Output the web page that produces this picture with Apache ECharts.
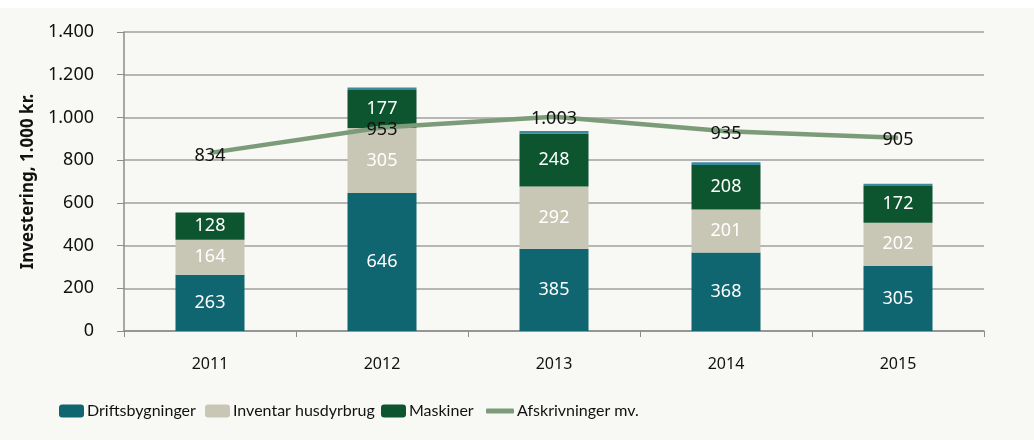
<!DOCTYPE html>
<html><head><meta charset="utf-8">
<script src="https://cdn.jsdelivr.net/npm/echarts@6/dist/echarts.min.js"></script>
<style>html,body{margin:0;padding:0;background:#f8f8f4}#c{width:1034px;height:440px}</style>
</head><body><div id="c"></div>
<script>
const years = ['2011','2012','2013','2014','2015'];
const driftsbygninger = [263, 646, 385, 368, 305];
const inventar = [164, 305, 292, 201, 202];
const maskiner = [128, 177, 248, 208, 172];
const oevrige = [0, 12, 11, 13, 11];
const afskrivninger = [834, 953, 1003, 935, 905];
const yTicks = [0, 200, 400, 600, 800, 1000, 1200, 1400];

const fmt = v => String(v).replace(/\B(?=(\d{3})+(?!\d))/g, '.');
const FONT = 'Noto Sans';
const chart = echarts.init(document.getElementById('c'));
const barLabel = {show:true, position:'inside', color:'#ffffff', fontSize:18, fontFamily:FONT};
const legendBase = {top:403, padding:0, itemWidth:25, itemHeight:13, textStyle:{fontSize:16, fontFamily:'Lato', color:'#111', padding:[0,0,0,-2]}, itemGap:0};
chart.setOption({
  backgroundColor:'#f8f8f4',
  animation:false,
  graphic:[{type:'rect', left:0, top:0, shape:{width:1034, height:8}, style:{fill:'#ffffff'}}],
  grid:{left:124, right:50, top:32, bottom:109},
  legend:[
    Object.assign({}, legendBase, {left:59, data:['Driftsbygninger']}),
    Object.assign({}, legendBase, {left:205, data:['Inventar husdyrbrug']}),
    Object.assign({}, legendBase, {left:381, data:['Maskiner']}),
    Object.assign({}, legendBase, {left:486, itemWidth:28, itemHeight:5, data:[{name:'Afskrivninger mv.', icon:'roundRect'}]})
  ],
  xAxis:{type:'category', data:years,
    axisLine:{lineStyle:{color:'#8c8c8c', width:1.5}},
    axisTick:{show:true, length:6, lineStyle:{color:'#8c8c8c'}},
    axisLabel:{color:'#111', fontSize:16, fontFamily:FONT, margin:25}},
  yAxis:{type:'value', min:yTicks[0], max:yTicks[yTicks.length-1], interval:200,
    name:'Investering, 1.000 kr.', nameLocation:'middle', nameGap:85,
    nameTextStyle:{fontSize:17, fontWeight:'bold', fontFamily:FONT, color:'#111'},
    axisLine:{show:true, lineStyle:{color:'#8c8c8c', width:1.5}},
    axisTick:{show:true, inside:false, length:7, lineStyle:{color:'#8c8c8c'}},
    splitLine:{lineStyle:{color:'#a0a0a0', width:1.5}},
    axisLabel:{color:'#111', fontSize:18, fontFamily:FONT, margin:30, formatter:v=>fmt(v)}},
  series:[
    {name:'Driftsbygninger', type:'bar', stack:'a', barWidth:69, data:driftsbygninger, itemStyle:{color:'#0f6570'}, label:barLabel},
    {name:'Inventar husdyrbrug', type:'bar', stack:'a', data:inventar, itemStyle:{color:'#c8c7b5'}, label:barLabel},
    {name:'Maskiner', type:'bar', stack:'a', data:maskiner, itemStyle:{color:'#0c552f'}, label:barLabel},
    {name:'Øvrige', type:'bar', stack:'a', data:oevrige, itemStyle:{color:'#3c8aa0'}, label:{show:false}},
    {name:'Afskrivninger mv.', type:'line', data:afskrivninger, symbol:'circle', symbolSize:1, showSymbol:true, z:5,
      lineStyle:{color:'#7b9b79', width:4.5}, itemStyle:{color:'#7b9b79'},
      label:{show:true, position:'top', distance:0, offset:[0,12], color:'#111', fontSize:18, fontFamily:FONT, formatter:p=>fmt(p.value)}}
  ]
});
</script></body></html>
